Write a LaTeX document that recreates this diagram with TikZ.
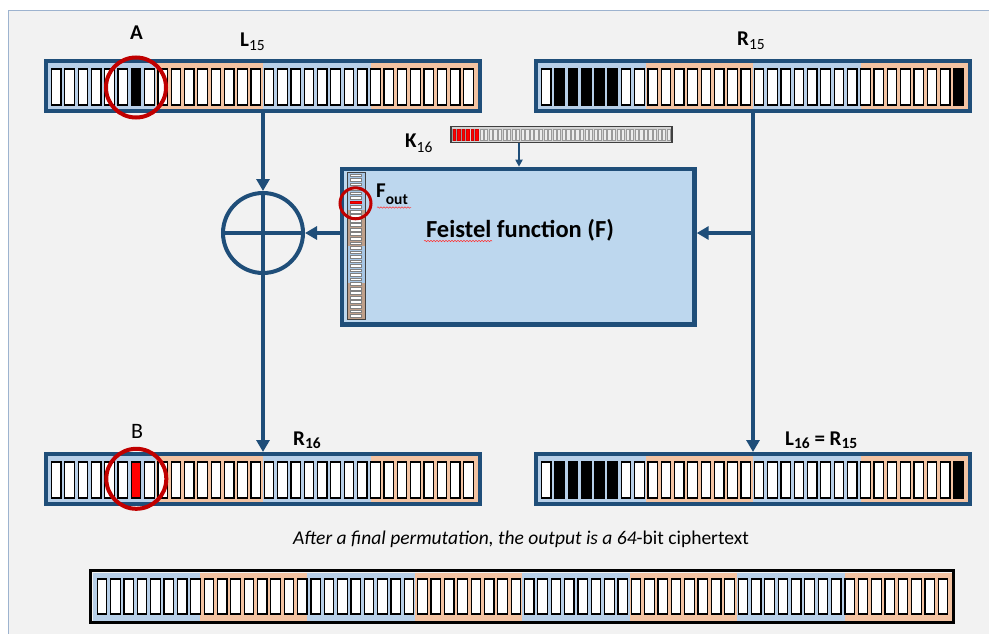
\documentclass[tikz,border=0pt]{standalone}
\usepackage{fontspec}
\setmainfont{Carlito}
\usetikzlibrary{arrows.meta,decorations.pathmorphing}
\definecolor{dkblue}{HTML}{1F4E79}
\definecolor{barblue}{HTML}{B7CFE8}
\definecolor{barorange}{HTML}{F3C3A2}
\definecolor{fblue}{HTML}{BDD7EE}
\definecolor{ringred}{HTML}{C00000}
\definecolor{framecol}{HTML}{9DB3CF}
\definecolor{bggray}{HTML}{F2F2F2}
\definecolor{colblue}{HTML}{A7C6E5}
\definecolor{colbrown}{HTML}{BFA08B}
\definecolor{kgray}{HTML}{D4D4D4}
\tikzset{
  bitcell/.style={draw=black, line width=1.2pt, fill=white},
  barframe/.style={draw=dkblue, line width=4pt, inner sep=0pt, minimum width=434pt, minimum height=50pt},
  ring/.style={circle, draw=ringred, line width=4pt, inner sep=0pt},
  flow/.style={draw=dkblue, line width=3.6pt, -{Triangle[length=12pt,width=13pt]}},
  kflow/.style={draw=dkblue, line width=2pt, -{Triangle[length=7pt,width=7pt]}},
  colbit/.style={draw=gray, line width=0.6pt, fill=white},
  kbit/.style={draw=gray!80, line width=0.5pt, fill=gray!15},
  lbltext/.style={inner sep=0pt, font=\fontsize{21}{25}\selectfont\bfseries},
  squig/.style={draw=red!80, line width=0.5pt, decorate, decoration={snake, amplitude=0.7pt, segment length=3pt}}
}
\newcommand\halfbar[2]{%
  \fill[barblue] (#1,#2) rectangle ++(107.5,46);
  \fill[barorange] ({#1+107.5},#2) rectangle ++(107.5,46);
  \fill[barblue] ({#1+215},#2) rectangle ++(107.5,46);
  \fill[barorange] ({#1+322.5},#2) rectangle ++(107.5,46);
  \foreach \i in {0,...,31}{\draw[bitcell] ({#1+3.5+13.3*\i},{#2+6}) rectangle ++(9.5,36);}
}
\newcommand\markbits[4]{%
  \foreach \i in {#3}{\draw[bitcell, fill=#4] ({#1+3.5+13.3*\i},{#2+6}) rectangle ++(9.5,36);}
}
\newcommand\subs[2][4pt]{\raisebox{-#1}{\fontsize{15.5}{17}\selectfont #2}}
\begin{document}
\begin{tikzpicture}[x=1pt,y=-1pt]
\useasboundingbox (0,0) rectangle (989,634);
\clip (0,0) rectangle (989,634);
\fill[white] (0,0) rectangle (989,634);
\draw[framecol, line width=1.2pt, fill=bggray] (8.5,10.5) rectangle (1000,660);

% ---- 32-bit halves ----
\halfbar{48}{63}
\markbits{48}{63}{6}{black}
\node[barframe] (L15) at (263,86) {};
\halfbar{538}{63}
\markbits{538}{63}{1,2,3,4,5,31}{black}
\node[barframe] (R15) at (753,86) {};
\halfbar{48}{456}
\markbits{48}{456}{6}{red}
\node[barframe] (R16) at (263,479) {};
\halfbar{538}{456}
\markbits{538}{456}{1,2,3,4,5,31}{black}
\node[barframe] (L16) at (753,479) {};

% ---- 64-bit ciphertext ----
\foreach \s in {0,2,4,6}{\fill[barblue] ({92.5+107.44*\s},572.5) rectangle ++(107.44,48.5);}
\foreach \s in {1,3,5,7}{\fill[barorange] ({92.5+107.44*\s},572.5) rectangle ++(107.44,48.5);}
\foreach \i in {0,...,63}{\draw[bitcell] ({97.3+13.35*\i},579) rectangle ++(9.5,35);}
\node[draw=black, line width=3pt, inner sep=0pt, minimum width=862.7pt, minimum height=51.7pt] (CT) at (522.15,596.65) {};

% ---- Feistel box ----
\node[draw=dkblue, line width=4.5pt, fill=fblue, inner sep=0pt, minimum width=352.3pt, minimum height=155.5pt] (F) at (518.3,246.7) {};
\fill[colblue] (347.5,173) rectangle (364.5,209.5);
\fill[colbrown] (347.5,209.5) rectangle (364.5,246);
\fill[colblue] (347.5,246) rectangle (364.5,282.5);
\fill[colbrown] (347.5,282.5) rectangle (364.5,319);
\foreach \i in {0,...,31}{\draw[colbit] (350.5,{173+4.53*\i+0.9}) rectangle ++(11,2.7);}
\draw[colbit, fill=red, draw=red!80!black] (350.5,{173+4.53*6+0.9}) rectangle ++(11,2.7);
\node[draw=black!75, line width=1pt, inner sep=0pt, minimum width=18pt, minimum height=147pt] (Fcol) at (356,246) {};
\node[ring, line width=3pt, minimum size=31pt] (ringF) at (355.5,203.3) {};

% ---- K16 ----
\fill[kgray] (451,127) rectangle (672,142);
\foreach \i in {0,...,47}{\draw[kbit] ({452.6+4.56*\i},129.5) rectangle ++(3.2,10.5);}
\foreach \i in {0,...,5}{\draw[kbit, fill=red, draw=red!85!black] ({452.9+4.56*\i},129.5) rectangle ++(2.6,10.5);}
\node[draw=black!75, line width=1.3pt, inner sep=0pt, minimum width=221pt, minimum height=15.5pt] (K16) at (561.5,134.5) {};

% ---- XOR ----
\node[circle, draw=dkblue, line width=4pt, minimum size=80pt, inner sep=0pt] (xor) at (263,233) {};
\draw[dkblue, line width=3.6pt] (xor.north) -- (xor.south) (xor.west) -- (xor.east);

% ---- rings ----
\node[ring, minimum size=60pt] (ringA) at (136,87.5) {};
\node[ring, minimum size=60pt] (ringB) at (136.3,478.8) {};

% ---- connectors ----
\draw[flow] (L15.south) -- (xor.north);
\draw[flow] (xor.south) -- (R16.north);
\draw[flow] (xor.east -| F.west) -- (xor.east);
\draw[flow] (R15.south) -- (L16.north);
\coordinate (br) at (R15.south |- xor.east);
\draw[flow] (br) -- (br -| F.east);
\coordinate (kout) at (519,143);
\draw[kflow] (kout) -- (kout |- F.north);

% ---- labels ----
\node[lbltext, anchor=base] (labA) at (136.5,40) {A};
\node[lbltext, anchor=base west] (labL15) at (240,46.7) {L\subs[3.5pt]{\mdseries 15}};
\node[lbltext, anchor=base west] (labR15) at (737,46) {R\subs[3.5pt]{\mdseries 15}};
\node[lbltext, anchor=base west] (labK16) at (405,147) {K\subs[5pt]{\mdseries 16}};
\node[lbltext, anchor=base west] (labFout) at (376,197) {F\subs[7pt]{out}};
\node[inner sep=0pt, anchor=base, font=\fontsize{24.5}{28}\selectfont\bfseries] (labF) at (520,237) {Feistel function (F)};
\node[inner sep=0pt, anchor=base, font=\fontsize{22}{25}\selectfont] (labB) at (137,438) {B};
\node[lbltext, anchor=base west] (labR16) at (293,445) {R\subs[3pt]{16}};
\node[lbltext, anchor=base west] (labL16) at (785,445) {L\subs[3pt]{16} = R\subs[3pt]{15}};
\node[inner sep=0pt, anchor=base, font=\fontsize{19.5}{23}\selectfont] (cap) at (521,544) {\itshape After a final permutation, the output is a 64\upshape-bit ciphertext};

% spell-check squiggles
\draw[squig] (424,241) -- (492,241);
\draw[squig] (377,207.5) -- (411,207.5);
\end{tikzpicture}
\end{document}
